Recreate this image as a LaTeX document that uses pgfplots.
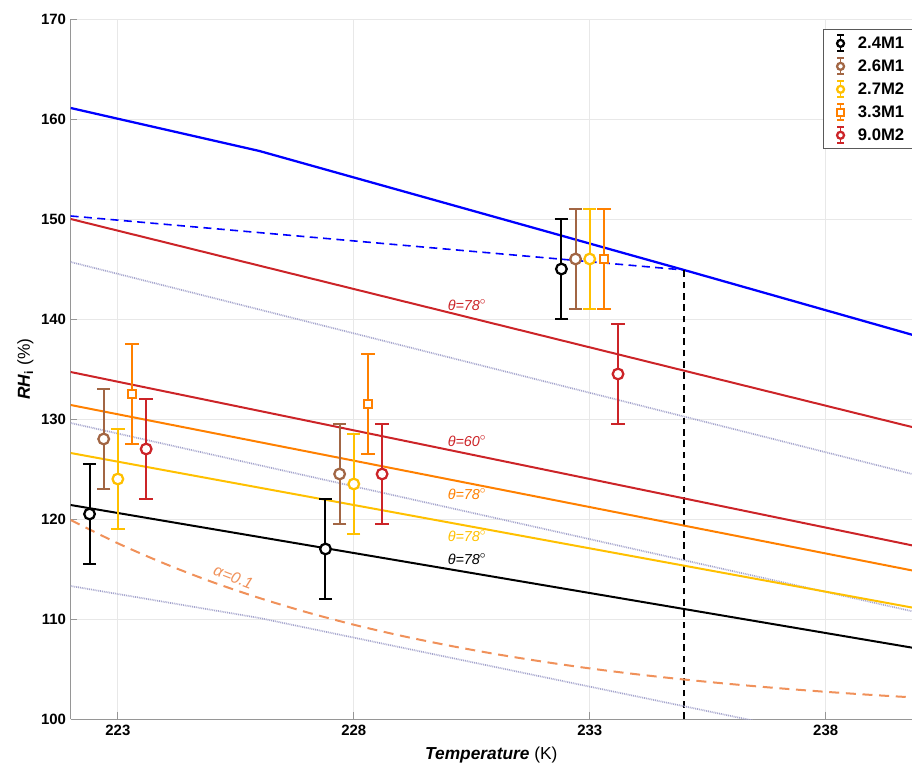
\documentclass[border=0pt]{standalone}
\usepackage{pgfplots}
\usepackage{pgfplotstable}
\pgfplotsset{compat=1.18}
\usepackage{fontspec}
\setmainfont{Liberation Sans}

\definecolor{cblue}{RGB}{0,0,255}
\definecolor{cred}{RGB}{204,36,40}
\definecolor{corange}{RGB}{255,128,0}
\definecolor{cyellow}{RGB}{255,192,0}
\definecolor{cbrown}{RGB}{162,102,68}
\definecolor{cpeach}{RGB}{240,145,90}
\definecolor{clav}{RGB}{165,165,205}
\definecolor{axgray}{RGB}{150,150,150}
\definecolor{grgray}{RGB}{232,232,232}

% measured RH_i with +/- uncertainty
\pgfplotstableread{
T RH E
222.4 120.5 5
227.4 117.0 5
232.4 145.0 5
}\dataA
\pgfplotstableread{
T RH E
222.7 128.0 5
227.7 124.5 5
232.7 146.0 5
}\dataB
\pgfplotstableread{
T RH E
223.0 124.0 5
228.0 123.5 5
233.0 146.0 5
}\dataC
\pgfplotstableread{
T RH E
223.3 132.5 5
228.3 131.5 5
233.3 146.0 5
}\dataD
\pgfplotstableread{
T RH E
223.6 127.0 5
228.6 124.5 5
233.6 134.5 5
}\dataE

\pgfplotsset{
  errlegend/.style={legend image code/.code={
    \path[draw=none, fill=none] (0pt,-0.1pt) rectangle (23pt,0.1pt);
    \draw[##1, mark=none, line width=1.4pt] (12pt,-6pt) -- (12pt,6pt);
    \draw[##1, mark=none, line width=1.4pt] (9.5pt,6pt) -- (14.5pt,6pt) (9.5pt,-6pt) -- (14.5pt,-6pt);
    \draw[##1, line width=1.3pt, mark size=2.6pt] plot coordinates {(12pt,0pt)};
  }},
  meas/.style={only marks, color=#1, mark=*, mark size=4pt, line width=1.5pt,
    mark options={fill=white, line width=1.7pt},
    error bars/y dir=both, error bars/y explicit,
    error bars/error bar style={line width=1.5pt},
    error bars/error mark options={rotate=90, line width=1.5pt, mark size=5pt}},
}

\begin{document}
\begin{tikzpicture}
\useasboundingbox (-53pt,-33.75pt) rectangle (631pt,539.25pt);
\begin{axis}[
  at={(0,0)}, anchor=south west,
  scale only axis, width=631pt, height=525pt,
  xmin=222, xmax=239.83, ymin=100, ymax=170,
  xtick={223,228,233,238}, ytick={100,110,...,170},
  axis x line*=bottom, axis y line*=left,
  axis line style={axgray, line width=0.6pt},
  tick style={axgray, line width=0.6pt}, tick align=inside,
  major tick length=5pt,
  grid=major, major grid style={grgray, line width=0.6pt},
  tick label style={font=\bfseries\fontsize{11.2}{13}\selectfont, text=black},
  /pgf/number format/assume math mode=true,
  xticklabel style={yshift=-1pt},
  xlabel={\textbf{\textit{Temperature}} (K)},
  ylabel={\textbf{\textit{RH}}\textsubscript{\textbf{i}} (\%)},
  label style={font=\fontsize{13}{15}\selectfont},
  x label style={at={(axis description cs:0.5,0)}, anchor=center, yshift=-27pt},
  y label style={at={(axis description cs:0,0.5)}, anchor=center, yshift=34pt},
  legend style={at={(0.894,0.985)}, anchor=north west, draw=black!65,
    line width=0.6pt, fill=white, font=\bfseries\fontsize{12.5}{14}\selectfont,
    row sep=3pt, inner xsep=1pt, inner ysep=3pt},
  legend cell align=left,
  errlegend,
]
% reference curves
\addplot[forget plot, cblue, line width=1.7pt] coordinates {(222,161.1) (226,156.8) (235,144.9) (240,138.2)};
\addplot[forget plot, cblue, line width=1.2pt, dash pattern=on 6pt off 4pt] coordinates {(222,150.3) (235,144.9)};
\addplot[forget plot, black, line width=1.1pt, dash pattern=on 5pt off 3.5pt] coordinates {(235,100) (235,144.9)};
\addplot[forget plot, clav, line width=1.3pt, dash pattern=on 0.7pt off 0.7pt] coordinates {(222,145.7) (240,124.3)};
\addplot[forget plot, clav, line width=1.3pt, dash pattern=on 0.7pt off 0.7pt] coordinates {(222,129.6) (240,110.6)};
\addplot[forget plot, clav, line width=1.3pt, dash pattern=on 0.7pt off 0.7pt] coordinates {(222,113.3) (226,110.1) (236.3,100) (240,96.4)};
\addplot[forget plot, cred, line width=1.5pt] coordinates {(222,150.0) (240,129.0)};
\addplot[forget plot, cred, line width=1.5pt] coordinates {(222,134.7) (240,117.2)};
\addplot[forget plot, corange, line width=1.5pt] coordinates {(222,131.4) (240,114.7)};
\addplot[forget plot, cyellow, line width=1.5pt] coordinates {(222,126.6) (240,111.0)};
\addplot[forget plot, black, line width=1.5pt] coordinates {(222,121.4) (240,107.0)};
\addplot[forget plot, cpeach, line width=1.5pt, dash pattern=on 7.5pt off 5pt, smooth] coordinates {
  (222,119.90) (223,117.57) (224,115.52) (225,113.70) (226,112.10) (227,110.68)
  (228,109.43) (229,108.33) (230,107.36) (231,106.50) (232,105.74) (233,105.06)
  (234,104.47) (235,103.95) (236,103.49) (237,103.08) (238,102.72) (239,102.40) (240,102.12)};

% curve annotations
\node[text=cred, font=\itshape\fontsize{10.8}{12}\selectfont] at (axis cs:230.4,141.4) {θ=78$^{\circ}$};
\node[text=cred, font=\itshape\fontsize{10.8}{12}\selectfont] at (axis cs:230.4,127.8) {θ=60$^{\circ}$};
\node[text=corange, font=\itshape\fontsize{10.8}{12}\selectfont] at (axis cs:230.4,122.5) {θ=78$^{\circ}$};
\node[text=cyellow, font=\itshape\fontsize{10.8}{12}\selectfont] at (axis cs:230.4,118.3) {θ=78$^{\circ}$};
\node[text=black, font=\itshape\fontsize{10.8}{12}\selectfont] at (axis cs:230.4,116.0) {θ=78$^{\circ}$};
\node[text=cpeach, rotate=-21, font=\itshape\fontsize{12}{14}\selectfont] at (axis cs:225.45,114.2) {α=0.1};

% measurements
\addplot[meas=black] table[x=T, y=RH, y error=E] {\dataA};
\addplot[meas=cbrown] table[x=T, y=RH, y error=E] {\dataB};
\addplot[meas=cyellow] table[x=T, y=RH, y error=E] {\dataC};
\addplot[meas=corange, mark=square*, mark size=3pt] table[x=T, y=RH, y error=E] {\dataD};
\addplot[meas=cred] table[x=T, y=RH, y error=E] {\dataE};
\legend{2.4M1\hspace*{8pt},2.6M1\hspace*{8pt},2.7M2\hspace*{8pt},3.3M1\hspace*{8pt},9.0M2\hspace*{8pt}}
\end{axis}
\end{tikzpicture}
\end{document}
